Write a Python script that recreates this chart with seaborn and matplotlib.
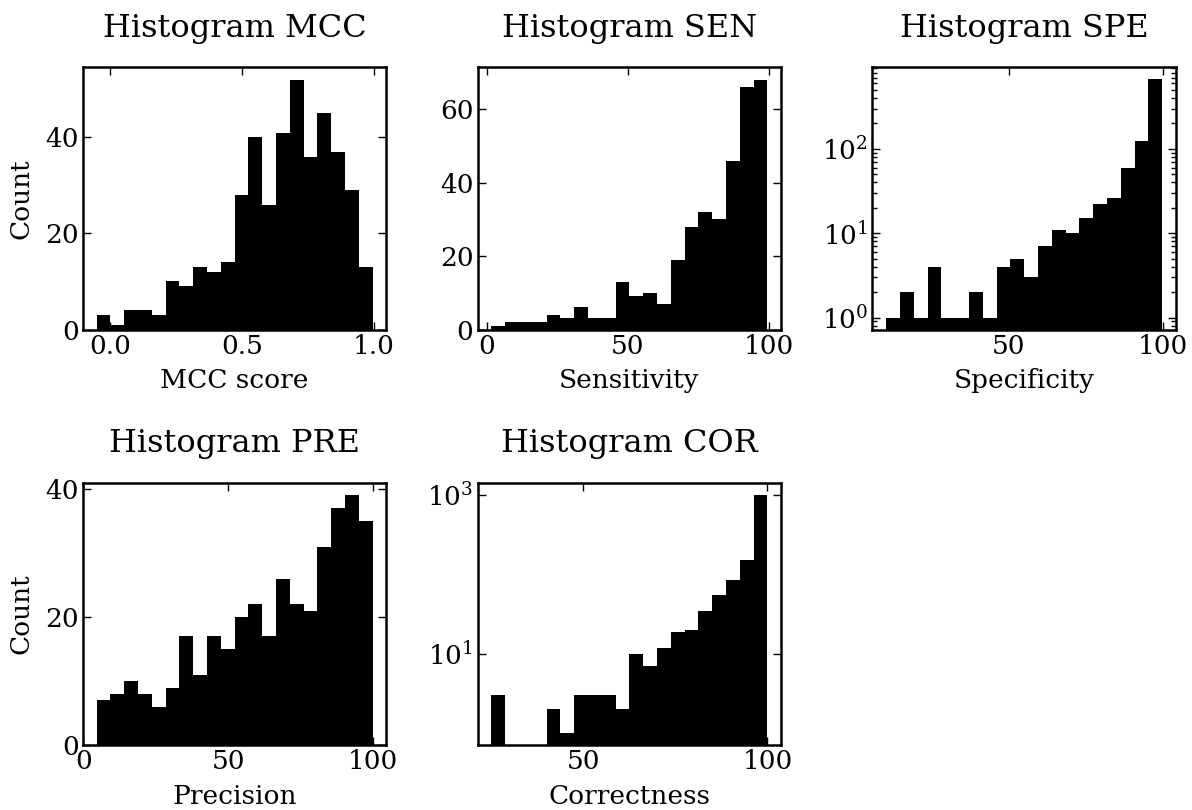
import numpy as np
import pandas as pd
import matplotlib
matplotlib.use("Agg")
import matplotlib.pyplot as plt
import matplotlib.ticker as mticker
import seaborn as sns

# Per-metric histogram counts (20 bins each) and the value range they cover
mcc_range = (-0.05, 0.995)
mcc_counts = [3, 1, 4, 4, 3, 10, 9, 13, 12, 14, 28, 40, 26, 41, 52, 36, 45, 37, 29, 13]

sen_range = (1.5, 99.5)
sen_counts = [1, 2, 2, 2, 4, 3, 6, 3, 3, 13, 9, 10, 7, 19, 28, 32, 30, 46, 66, 68]

spe_range = (10.2, 99.7)
spe_counts = [1, 2, 1, 4, 1, 1, 2, 1, 4, 5, 3, 7, 11, 10, 15, 22, 26, 60, 124, 670]

pre_range = (4.6, 99.9)
pre_counts = [7, 8, 10, 8, 6, 9, 17, 11, 17, 15, 20, 22, 17, 26, 22, 21, 31, 37, 39, 35]

cor_range = (25.0, 100.0)
cor_counts = [3, 0, 0, 0, 2, 1, 3, 3, 3, 2, 10, 7, 12, 19, 20, 35, 55, 85, 152, 1000]

titles = ["Histogram MCC", "Histogram SEN", "Histogram SPE", "Histogram PRE", "Histogram COR"]
xlabels = ["MCC score", "Sensitivity", "Specificity", "Precision", "Correctness"]
log_y = [False, False, True, False, True]
x_step = [0.5, 50, 50, 50, 50]

panels = [
    (mcc_range, mcc_counts),
    (sen_range, sen_counts),
    (spe_range, spe_counts),
    (pre_range, pre_counts),
    (cor_range, cor_counts),
]

sns.set_style("ticks")
plt.rcParams.update({
    "font.family": ["DejaVu Serif"],
    "text.color": "black",
    "axes.labelcolor": "black",
    "axes.linewidth": 1.8,
    "axes.edgecolor": "black",
    "xtick.direction": "in",
    "ytick.direction": "in",
    "xtick.top": True,
    "ytick.right": True,
    "xtick.major.size": 6,
    "ytick.major.size": 6,
    "xtick.minor.size": 3.5,
    "ytick.minor.size": 3.5,
    "xtick.major.width": 1.0,
    "ytick.major.width": 1.0,
    "xtick.minor.width": 1.0,
    "ytick.minor.width": 1.0,
    "xtick.labelsize": 19,
    "ytick.labelsize": 19,
    "xtick.major.pad": 3,
    "ytick.major.pad": 3,
    "xtick.color": "black",
    "ytick.color": "black",
})

fig, axes = plt.subplots(2, 3, figsize=(11.92, 8.1), dpi=100)
fig.subplots_adjust(left=0.0694, right=0.9866, bottom=0.080, top=0.917,
                    wspace=0.30, hspace=0.585)

for k, ((lo, hi), counts) in enumerate(panels):
    ax = axes.flat[k]
    nb = len(counts)
    edges = np.linspace(lo, hi, nb + 1)
    df = pd.DataFrame({"value": 0.5 * (edges[:-1] + edges[1:]), "n": counts})
    sns.histplot(data=df, x="value", weights="n", bins=nb, binrange=(lo, hi),
                 color="black", alpha=1.0, linewidth=0, ax=ax)
    ax.xaxis.set_major_locator(mticker.MultipleLocator(x_step[k]))
    if log_y[k]:
        ax.set_yscale("log")
        ax.relim()
        ax.autoscale_view()
        if k == 4:
            ax.yaxis.set_major_locator(mticker.FixedLocator([10, 1000]))
            ax.yaxis.set_minor_locator(mticker.NullLocator())
    else:
        ax.yaxis.set_major_locator(mticker.MultipleLocator(20))
    ax.set_title(titles[k], fontsize=23, pad=22)
    ax.set_xlabel(xlabels[k], fontsize=19, labelpad=7)
    if k % 3 == 0:
        ax.set_ylabel("Count", fontsize=19, labelpad=8)
    else:
        ax.set_ylabel("")
    ax.tick_params(which="both", direction="in", top=True, right=True)
    for s in ax.spines.values():
        s.set_visible(True)
        s.set_linewidth(1.8)

axes.flat[5].remove()

fig.savefig("out.png", dpi=100)
